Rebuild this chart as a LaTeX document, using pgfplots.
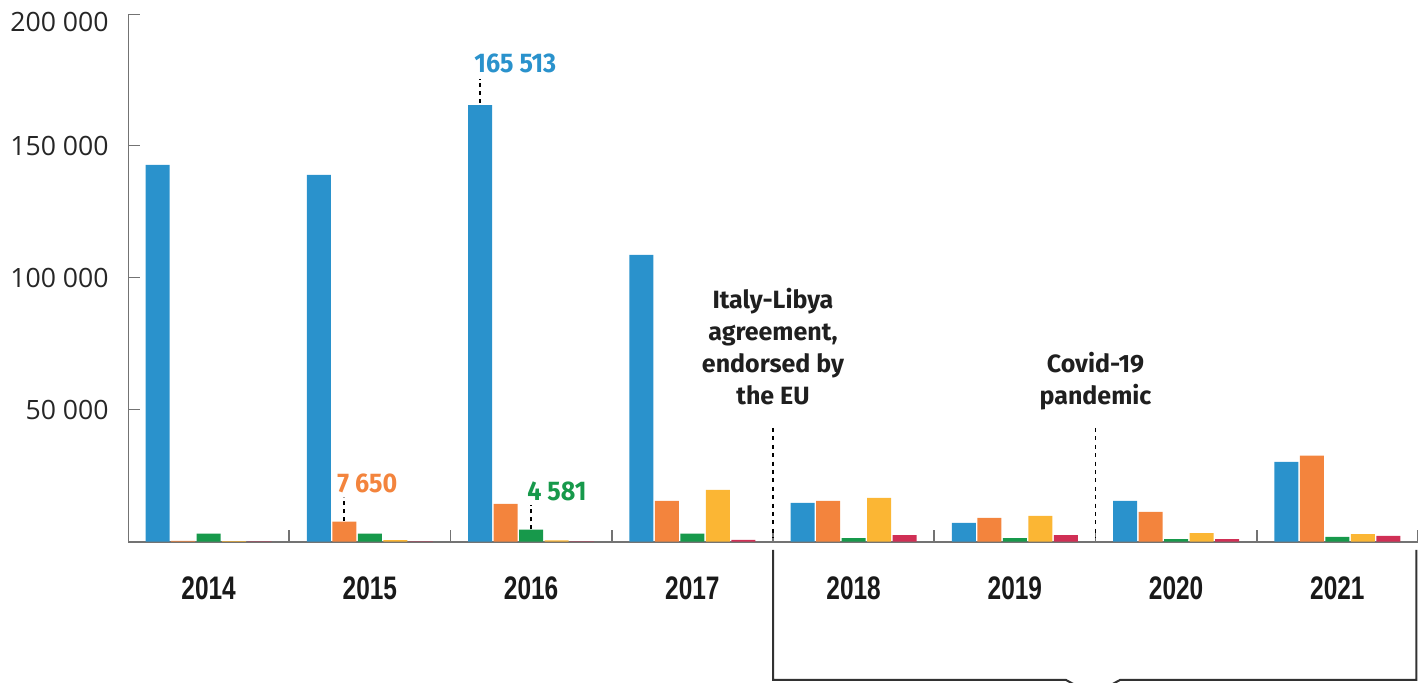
\documentclass[border=0pt]{standalone}
\usepackage{fontspec}
\setmainfont{Fira Sans}
\newfontfamily\yearfont{Liberation Sans}
\newfontfamily\tickfont{Open Sans}
\usepackage{graphicx}
\usepackage{pgfplots}
\pgfplotsset{compat=1.18}
\usepackage{pgfplotstable}
\definecolor{cblue}{RGB}{42,146,204}
\definecolor{corange}{RGB}{243,132,61}
\definecolor{cgreen}{RGB}{23,153,75}
\definecolor{cyellow}{RGB}{251,182,52}
\definecolor{cred}{RGB}{208,47,85}
\definecolor{axgray}{RGB}{115,115,115}
\definecolor{brk}{RGB}{50,50,50}

\pgfplotstableread{
x y
0 142800
1 139000
2 165513
3 108700
4 14700
5 7100
6 15500
7 30300
}\tblue
\pgfplotstableread{
x y
0 300
1 7650
2 14300
3 15500
4 15500
5 9000
6 11300
7 32600
}\torange
\pgfplotstableread{
x y
0 3050
1 3030
2 4581
3 3030
4 1400
5 1400
6 1000
7 1800
}\tgreen
\pgfplotstableread{
x y
0 200
1 600
2 500
3 19600
4 16600
5 9800
6 3300
7 2900
}\tyellow
\pgfplotstableread{
x y
0 150
1 150
2 150
3 700
4 2500
5 2500
6 1000
7 2200
}\tred

\newcommand\yr[1]{\scalebox{0.75}[1]{#1}}
\newcommand\vl[1]{\scalebox{0.93}[1]{#1}}

\begin{document}
\begin{tikzpicture}
\useasboundingbox (0,0) rectangle (709pt,341pt);
\begin{axis}[
  at={(64pt,70.15pt)}, anchor=south west,
  scale only axis, width=645pt, height=263.85pt,
  xmin=-0.5, xmax=7.5, ymin=0, ymax=200000,
  clip=false,
  axis lines*=left,
  x axis line style={draw=axgray, line width=1pt},
  y axis line style={draw=axgray, line width=0.5pt},
  ybar, bar width=0.148,
  tick align=inside,
  major tick length=6pt,
  xtick={0.5,1.5,2.5,3.5,4.5,5.5,6.5,7.5},
  xticklabels={},
  x tick style={draw=axgray, line width=0.9pt},
  extra x ticks={0,1,2,3,4,5,6,7},
  extra x tick labels={\yr{2014},\yr{2015},\yr{2016},\yr{2017},\yr{2018},\yr{2019},\yr{2020},\yr{2021}},
  extra x tick style={major tick length=0pt, tick style={draw=none}},
  x tick label style={font=\yearfont\bfseries\fontsize{16.3}{18}\selectfont, anchor=base, inner sep=0pt, yshift=-29.1pt, text=black!90},
  ytick={50000,100000,150000,200000},
  yticklabels={50 000,100 000,150 000,\raisebox{-4pt}[9.3pt][0pt]{200 000}},
  y tick style={draw=axgray, line width=0.5pt},
  y tick label style={font=\tickfont\fontsize{13.3}{15}\selectfont, anchor=east, inner sep=0pt, xshift=-9.5pt, text=black!85},
]
\addplot[fill=cblue, draw=none, bar shift=-0.316] table {\tblue};
\addplot[fill=corange, draw=none, bar shift=-0.158] table {\torange};
\addplot[fill=cgreen, draw=none, bar shift=0] table {\tgreen};
\addplot[fill=cyellow, draw=none, bar shift=0.158] table {\tyellow};
\addplot[fill=cred, draw=none, bar shift=0.316] table {\tred};

% value labels
\draw[black, line width=0.9pt, dash pattern=on 2pt off 2pt] (axis cs:1.684,166200) -- (axis cs:1.684,175400);
\node[anchor=base west, inner sep=0pt, text=cblue, font=\bfseries\fontsize{13.5}{15}\selectfont] at (axis cs:1.646,178000) {\vl{165 513}};
\draw[black, line width=0.9pt, dash pattern=on 2pt off 2pt] (axis cs:0.842,7800) -- (axis cs:0.842,16900);
\node[anchor=base west, inner sep=0pt, text=corange, font=\bfseries\fontsize{13.5}{15}\selectfont] at (axis cs:0.796,18840) {\vl{7 650}};
\draw[black, line width=0.9pt, dash pattern=on 2pt off 2pt] (axis cs:2,4700) -- (axis cs:2,13900);
\node[anchor=base west, inner sep=0pt, text=cgreen, font=\bfseries\fontsize{13.5}{15}\selectfont] at (axis cs:1.974,15800) {\vl{4 581}};

% event annotations
\draw[black, line width=0.8pt, dash pattern=on 2pt off 2.2pt] (axis cs:3.5,43100) -- (axis cs:3.5,1500);
\draw[black, line width=0.8pt, dash pattern=on 2pt off 2.2pt] (axis cs:5.5,43100) -- (axis cs:5.5,1500);
\node[anchor=north, inner sep=0pt, align=center, text=black!88, font=\bfseries\fontsize{12.5}{16}\selectfont] at (axis cs:3.5,96200) {Italy-Libya\\agreement,\\endorsed by\\the EU};
\node[anchor=north, inner sep=0pt, align=center, text=black!88, font=\bfseries\fontsize{12.5}{16}\selectfont] at (axis cs:5.5,71900) {Covid-19\\pandemic};

% bracket
\draw[brk, line width=1pt] (axis cs:3.5,-3100) -- (axis cs:3.5,-52400) -- (axis cs:5.317,-52400) -- (axis cs:5.484,-58000) -- (axis cs:5.652,-52400) -- (axis cs:7.49,-52400) -- (axis cs:7.49,-3100);
\end{axis}
\end{tikzpicture}
\end{document}
